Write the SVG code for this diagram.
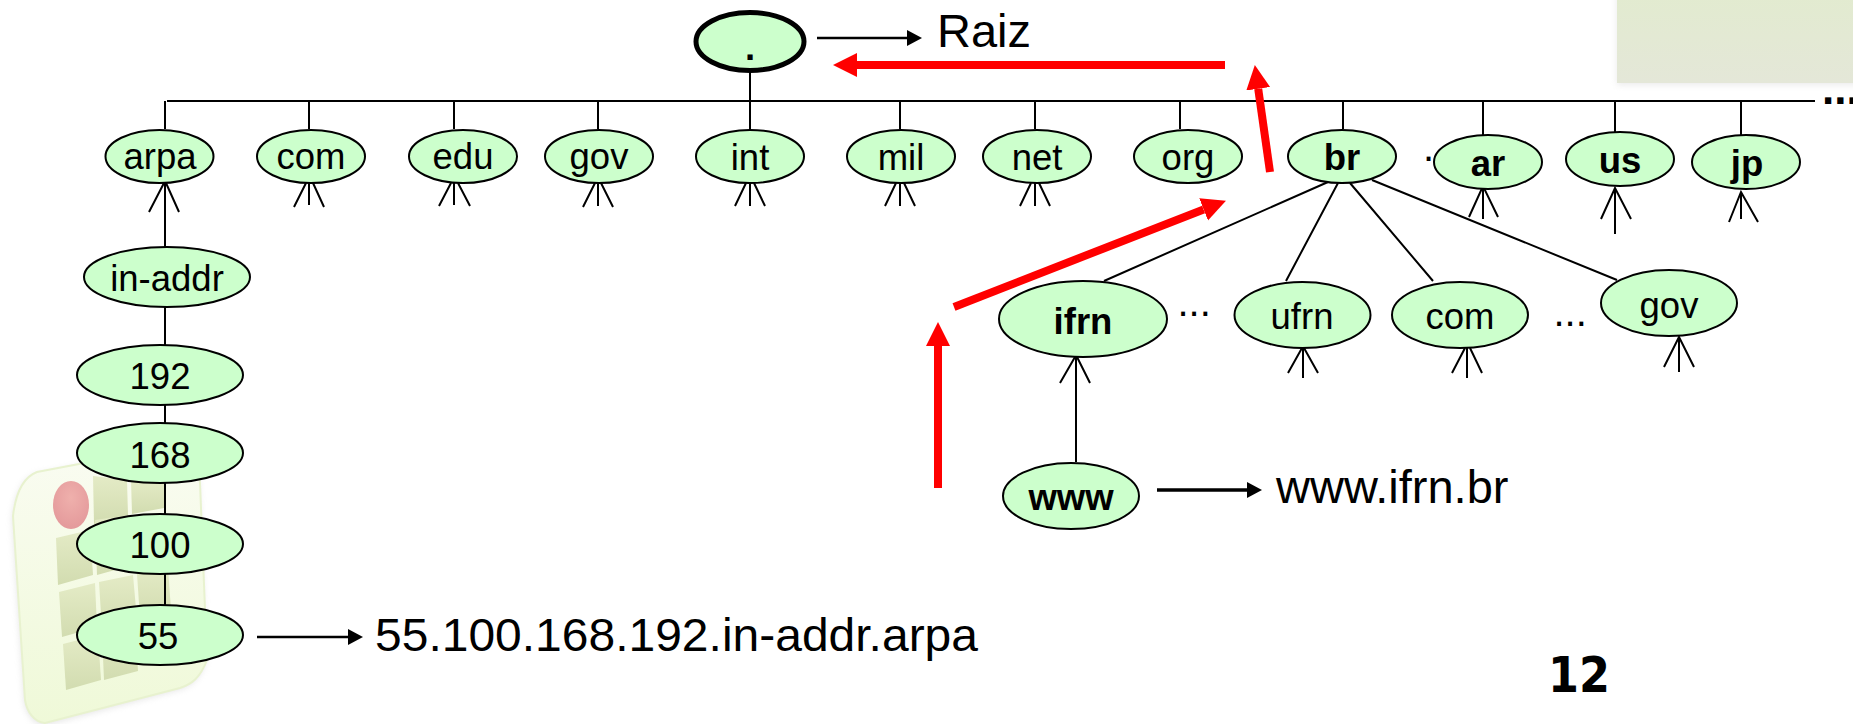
<svg xmlns="http://www.w3.org/2000/svg" width="1853" height="724" viewBox="0 0 1853 724">
<style>
text{font-family:"Liberation Sans",Arial,sans-serif;fill:#000}
.n{font-size:36.5px;text-anchor:middle}
.b{font-weight:bold}
.big{font-size:47px}
.d{font-size:40px}
.e{fill:#ccffcc;stroke:#000;stroke-width:2}
.c{fill:none;stroke:#000;stroke-width:2}
.k{stroke:#000;stroke-width:2.5;fill:none;marker-end:url(#ah)}
.r{stroke:#ff0000;stroke-width:8;fill:none;marker-end:url(#rh)}
.sq{fill:url(#sqg)}
</style>
<defs>
<marker id="ah" markerUnits="userSpaceOnUse" markerWidth="15" markerHeight="18" refX="0" refY="9" orient="auto"><path d="M0 1L15 9L0 17Z" fill="#000"/></marker>
<marker id="rh" markerUnits="userSpaceOnUse" markerWidth="24" markerHeight="26" refX="0" refY="13" orient="auto"><path d="M0 1L24 13L0 25Z" fill="#ff0000"/></marker>
<linearGradient id="sqg" x1="0" y1="0" x2="0" y2="1"><stop offset="0" stop-color="#e4ebc6"/><stop offset="1" stop-color="#d2dcb0"/></linearGradient>
<linearGradient id="logof" x1="0" y1="0" x2="0" y2="1"><stop offset="0" stop-color="#fafcf2"/><stop offset="1" stop-color="#eff9d8"/></linearGradient>
<linearGradient id="box" x1="0" y1="0" x2="0" y2="1"><stop offset="0" stop-color="#e2ebcf"/><stop offset="1" stop-color="#e4e7d8"/></linearGradient>
<radialGradient id="red" cx="0.5" cy="0.35" r="0.7"><stop offset="0" stop-color="#efb0ac"/><stop offset="1" stop-color="#e3989a"/></radialGradient>
<filter id="blur" x="-20%" y="-20%" width="140%" height="140%"><feGaussianBlur stdDeviation="3"/></filter>
</defs>
<rect width="1853" height="724" fill="#fff"/>
<g id="corner-box">
<rect x="1617" y="-10" width="250" height="95" fill="#ccc" opacity="0.4" filter="url(#blur)"/>
<rect x="1617" y="-10" width="250" height="93" fill="url(#box)"/>
</g>
<g id="logo">
<path d="M13 516C16 490 24 477 37 472L195 442L200 483L207 660C200 678 192 684 180 688L45 724C34 722 27 712 25 700Z" fill="#bbb" opacity="0.35" filter="url(#blur)" transform="translate(-1 2)"/>
<path d="M13 516C16 490 24 477 37 472L195 442L200 483L207 660C200 678 192 684 180 688L45 723C34 722 27 712 25 700Z" fill="url(#logof)" stroke="#e8f2cf" stroke-width="2"/>
<ellipse cx="71" cy="505" rx="18" ry="24" fill="url(#red)"/>
<path class="sq" d="M93 476L127 480L128 515L94 524Z"/>
<path class="sq" d="M131 480L164 480L164 508L132 514Z"/>
<path class="sq" d="M56 538L90 530L93 575L58 585Z"/>
<path class="sq" d="M95 520L130 515L133 565L97 575Z"/>
<path class="sq" d="M59 592L95 583L97 627L62 637Z"/>
<path class="sq" d="M99 582L133 575L137 620L102 630Z"/>
<path class="sq" d="M137 574L168 567L171 610L140 618Z"/>
<path class="sq" d="M63 644L98 635L101 680L66 690Z"/>
<path class="sq" d="M102 635L135 625L138 671L104 680Z"/>
</g>
<g id="connectors">
<path class="c" d="M167 101H1815"/>
<path class="c" d="M750 70V129M165 101V129M309 101V129M454 101V129M598 101V129M900 101V129M1035 101V129M1180 101V129M1343 101V129M1483 101V135M1615 101V132M1741 101V135"/>
<path class="c" d="M165 183V247M149 212L164 183M179 212L166 183M165 307V345M165 405V423M165 483V514M165 574V605"/>
<path class="c" d="M309 183V205M294 207L306 183M324 207L313 183M454 183V205M439 206L451 183M470 206L458 183M598 183V206M583 207L595 183M613 207L601 183M750 183V206M735 206L746 183M765 206L754 183M900 183V206M885 206L896 183M915 206L904 183M1035 183V206M1020 206L1031 183M1050 206L1039 183"/>
<path class="c" d="M1483 186V219M1469 217L1483 186L1498 217M1615 188V234M1601 219L1615 188L1631 219M1741 192V219M1729 222L1741 192L1758 222"/>
<path class="c" d="M1328 182L1104 281M1338 183L1286 281M1350 183L1433 281M1372 180L1617 280"/>
<path class="c" d="M1303 348V378M1288 373L1302 348M1318 373L1304 348M1467 348V378M1452 373L1465 348M1482 373L1470 348M1679 337V372M1664 367L1679 337L1694 367M1076 357V462M1060 383L1075 357M1090 383L1077 357"/>
<line class="k" x1="817" y1="38" x2="907" y2="38"/>
<line class="k" x1="1157" y1="490" x2="1247" y2="490" style="stroke-width:3.5"/>
<line class="k" x1="257" y1="637" x2="348" y2="637"/>
<line class="r" x1="1225" y1="65" x2="857" y2="65"/>
<line class="r" x1="1270" y1="172" x2="1258.2" y2="88.8"/>
<line class="r" x1="954" y1="307" x2="1203.6" y2="209.4"/>
<line class="r" x1="938" y1="488" x2="938" y2="346"/>
</g>
<g id="node-root"><ellipse cx="750" cy="41.5" rx="54" ry="29" fill="#ccffcc" stroke="#000" stroke-width="5"/><text class="n b" x="750" y="60">.</text></g>
<g id="node-arpa"><ellipse class="e" cx="159.500" cy="156.500" rx="54" ry="26.500"/><text class="n" x="160" y="169">arpa</text></g>
<g id="node-com"><ellipse class="e" cx="311" cy="156.500" rx="54" ry="26.500"/><text class="n" x="311" y="169">com</text></g>
<g id="node-edu"><ellipse class="e" cx="463" cy="156.500" rx="54" ry="26.500"/><text class="n" x="463" y="169">edu</text></g>
<g id="node-gov"><ellipse class="e" cx="599" cy="156.500" rx="54" ry="26.500"/><text class="n" x="599" y="169">gov</text></g>
<g id="node-int"><ellipse class="e" cx="750" cy="156.500" rx="54" ry="26.500"/><text class="n" x="750" y="170">int</text></g>
<g id="node-mil"><ellipse class="e" cx="901" cy="156.500" rx="54" ry="26.500"/><text class="n" x="901" y="170">mil</text></g>
<g id="node-net"><ellipse class="e" cx="1037" cy="156.500" rx="54" ry="26.500"/><text class="n" x="1037" y="170">net</text></g>
<g id="node-org"><ellipse class="e" cx="1188" cy="156.500" rx="54" ry="26.500"/><text class="n" x="1188" y="170">org</text></g>
<g id="node-br"><ellipse class="e" cx="1342" cy="156.500" rx="54" ry="26.500"/><text class="n b" x="1342" y="170">br</text></g>
<g id="node-ar"><ellipse class="e" cx="1488" cy="162" rx="54" ry="27"/><text class="n b" x="1488" y="176">ar</text></g>
<g id="node-us"><ellipse class="e" cx="1620" cy="159" rx="54" ry="27"/><text class="n b" x="1620" y="173">us</text></g>
<g id="node-jp"><ellipse class="e" cx="1746" cy="162" rx="54" ry="27"/><text class="n b" x="1747" y="176">jp</text></g>
<g id="node-in-addr"><ellipse class="e" cx="167" cy="277" rx="83" ry="30"/><text class="n" x="167" y="291">in-addr</text></g>
<g id="node-192"><ellipse class="e" cx="160" cy="375" rx="83" ry="30"/><text class="n" x="160" y="389">192</text></g>
<g id="node-168"><ellipse class="e" cx="160" cy="453" rx="83" ry="30"/><text class="n" x="160" y="468">168</text></g>
<g id="node-100"><ellipse class="e" cx="160" cy="544" rx="83" ry="30"/><text class="n" x="160" y="558">100</text></g>
<g id="node-55"><ellipse class="e" cx="160" cy="635" rx="83" ry="30"/><text class="n" x="158" y="649">55</text></g>
<g id="node-ifrn"><ellipse class="e" cx="1083" cy="319" rx="84" ry="38"/><text class="n b" x="1083" y="334">ifrn</text></g>
<g id="node-ufrn"><ellipse class="e" cx="1302.500" cy="315" rx="68" ry="33"/><text class="n" x="1302" y="329">ufrn</text></g>
<g id="node-com2"><ellipse class="e" cx="1460" cy="315" rx="68" ry="33"/><text class="n" x="1460" y="329">com</text></g>
<g id="node-gov2"><ellipse class="e" cx="1669" cy="303" rx="68" ry="33"/><text class="n" x="1669" y="318">gov</text></g>
<g id="node-www"><ellipse class="e" cx="1071" cy="496" rx="68" ry="33"/><text class="n b" x="1071" y="510">www</text></g>
<g id="labels">
<text class="big" x="937" y="47">Raiz</text>
<text class="big" x="1276" y="503">www.ifrn.br</text>
<text class="big" x="375" y="651" textLength="603" lengthAdjust="spacingAndGlyphs">55.100.168.192.in-addr.arpa</text>
<text class="d" x="1177.500" y="316">...</text>
<text class="d" x="1553.500" y="326">...</text>
<text class="d" x="1423" y="161">.</text>
<text class="b" style="font-size:44px" x="1822" y="104">...</text>
<text class="b" style="font-family:'DejaVu Sans',sans-serif;font-size:49px" x="1548" y="692" textLength="62" lengthAdjust="spacingAndGlyphs">12</text>
</g>
</svg>
